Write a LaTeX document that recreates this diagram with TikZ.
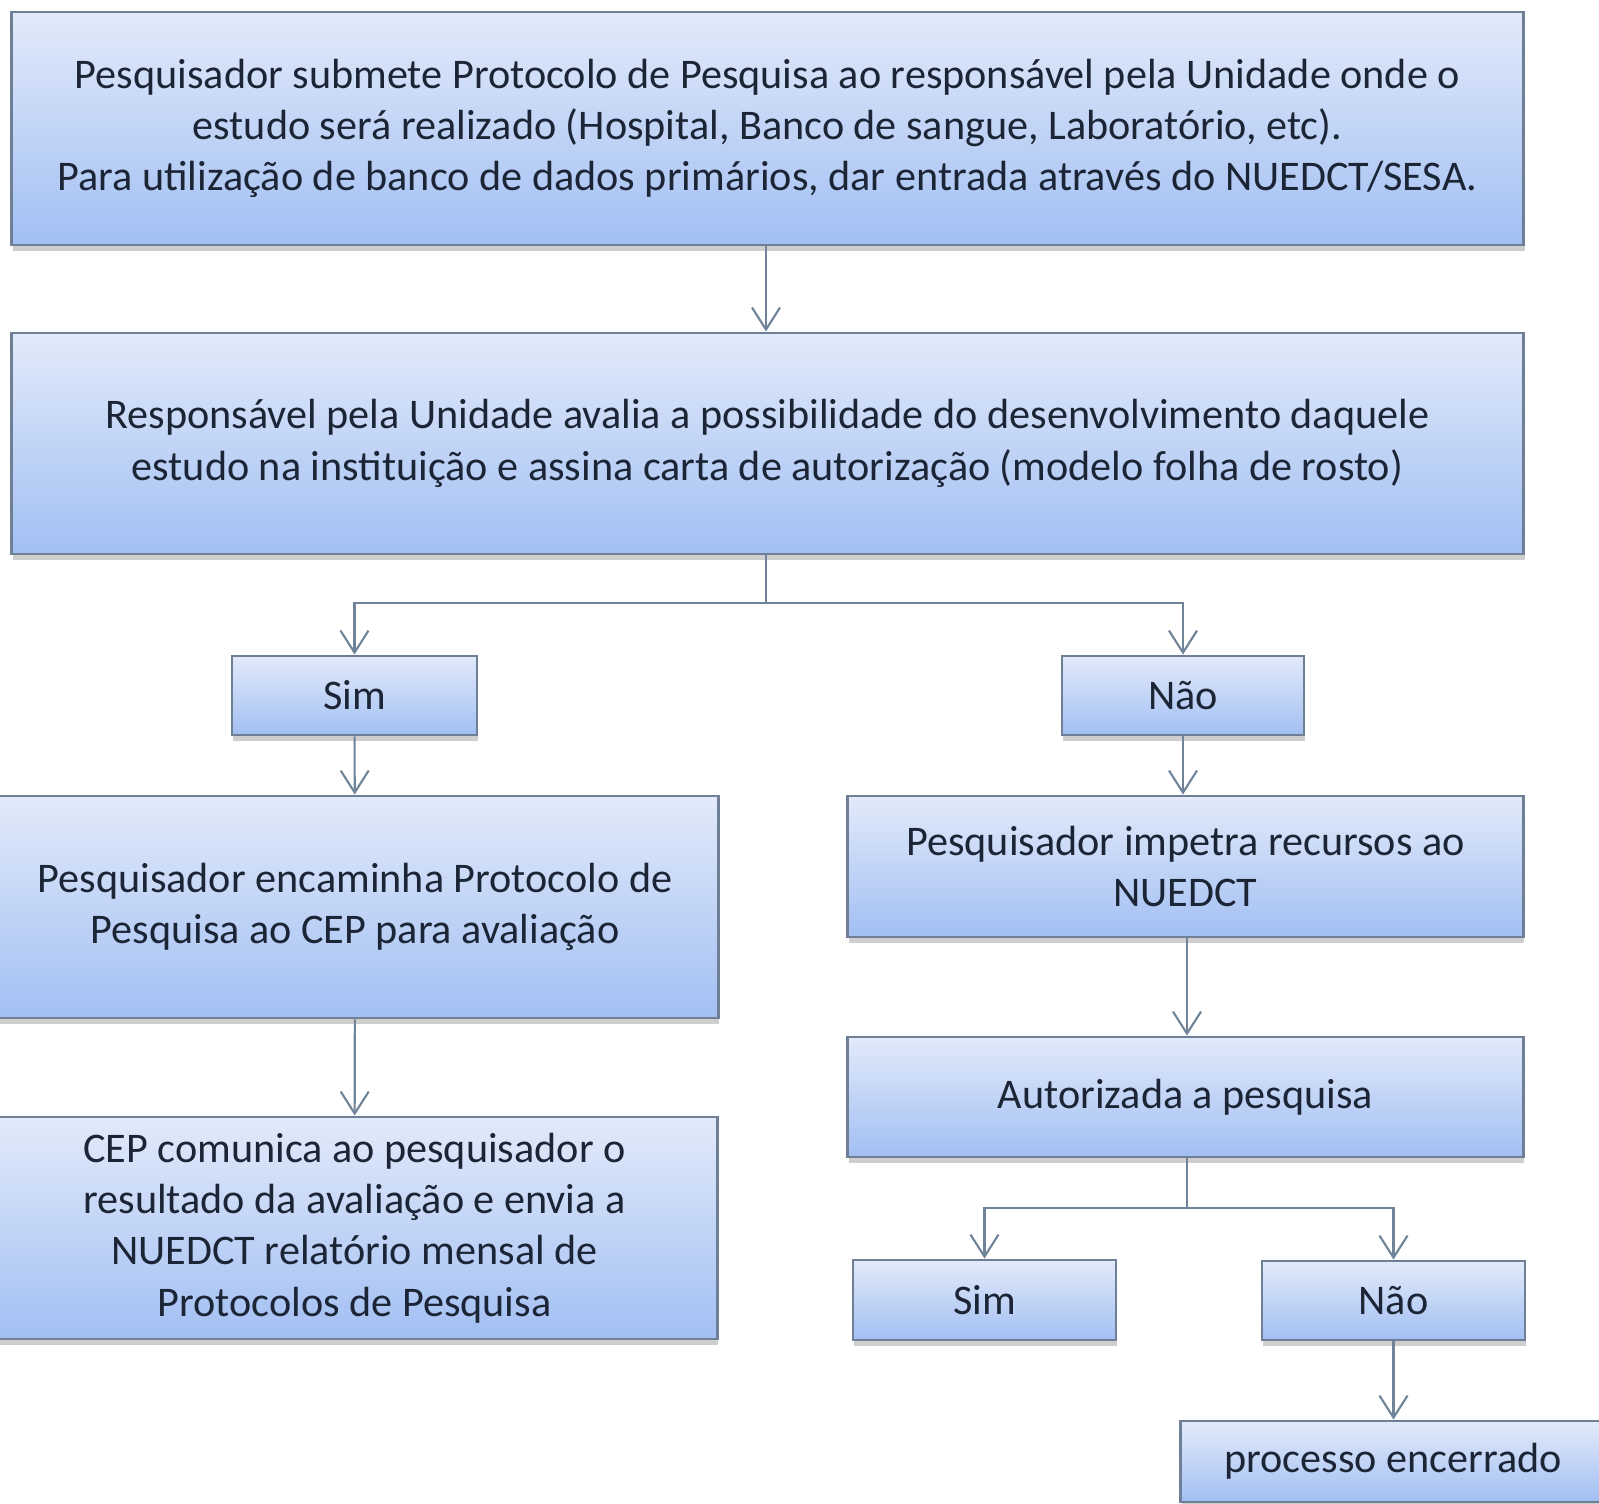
\documentclass[tikz,border=0pt]{standalone}
\usepackage{fontspec}
\setmainfont{Carlito}
\usetikzlibrary{arrows.meta,shadows}

\definecolor{borda}{HTML}{6E7F96}
\definecolor{topo}{HTML}{E2EAFA}
\definecolor{base}{HTML}{A2BFF3}
\definecolor{linha}{HTML}{6F8399}
\definecolor{texto}{HTML}{1C2535}

\tikzset{
    etapa/.style={draw=borda, line width=0.8pt, top color=topo, bottom color=base,
        drop shadow={shadow xshift=0.3pt, shadow yshift=-1.6pt, opacity=0.35, fill=black!55},
        align=center, text=texto, inner sep=0pt,
        font=\fontsize{12}{14.6}\selectfont},
    seta/.style={draw=linha, line width=0.6pt, -{Straight Barb[length=2.2mm, width=2.8mm, line width=0.6pt]}},
    liga/.style={draw=linha, line width=0.6pt}
}

\begin{document}
\begin{tikzpicture}[x=0.01cm, y=-0.01cm]

    \useasboundingbox[fill=white] (0,0) rectangle (1599,1504);

    \node[etapa, minimum width=15.11cm, minimum height=2.33cm] (protocolo) at (767.5,128.5)
        {Pesquisador submete Protocolo de Pesquisa ao responsável pela Unidade onde o\\
         estudo será realizado (Hospital, Banco de sangue, Laboratório, etc).\\
         Para utilização de banco de dados primários, dar entrada através do NUEDCT/SESA.};
    \node[etapa, minimum width=15.11cm, minimum height=2.21cm] (avaliacao) at (767.5,443.5)
        {Responsável pela Unidade avalia a possibilidade do desenvolvimento daquele\\
         estudo na instituição e assina carta de autorização (modelo folha de rosto)};

    \node[etapa, minimum width=2.45cm, minimum height=0.79cm] (sim) at (354.5,695.5) {Sim};
    \node[etapa, minimum width=2.42cm, minimum height=0.79cm] (nao) at (1183,695.5) {Não};

    % ramo da esquerda
    \node[etapa, minimum width=7.26cm, minimum height=2.22cm] (encaminha) at (355,907)
        {Pesquisador encaminha Protocolo de\\ Pesquisa ao CEP para avaliação};
    \node[etapa, minimum width=7.25cm, minimum height=2.22cm] (comunica) at (354.5,1228)
        {CEP comunica ao pesquisador o\\ resultado da avaliação e envia a\\
         NUEDCT relatório mensal de\\ Protocolos de Pesquisa};

    % ramo da direita
    \node[etapa, minimum width=6.75cm, minimum height=1.41cm] (recursos) at (1185.5,866.5)
        {Pesquisador impetra recursos ao\\ NUEDCT};
    \node[etapa, minimum width=6.75cm, minimum height=1.20cm] (autorizada) at (1185.5,1097)
        {Autorizada a pesquisa};
    \node[etapa, minimum width=2.63cm, minimum height=0.80cm] (simfinal) at (984.5,1300) {Sim};
    \node[etapa, minimum width=2.63cm, minimum height=0.79cm] (naofinal) at (1393.5,1300.5) {Não};
    \node[etapa, minimum width=4.24cm, minimum height=0.81cm] (encerrado) at (1393,1461.5)
        {processo encerrado};

    \coordinate (ramo) at (766,603);
    \coordinate (ramofinal) at (1187,1208);

    \draw[seta] (protocolo.south -| ramo) -- (avaliacao.north -| ramo);
    \draw[liga] (avaliacao.south -| ramo) -- (ramo);
    \draw[seta] (ramo) -| (sim.north);
    \draw[seta] (ramo) -| (nao.north);

    \draw[seta] (sim) -- (encaminha);
    \draw[seta] (encaminha) -- (comunica);

    \draw[seta] (nao.south) -- (nao.south |- recursos.north);
    \draw[seta] (recursos.south -| ramofinal) -- (autorizada.north -| ramofinal);
    \draw[liga] (autorizada.south -| ramofinal) -- (ramofinal);
    \draw[seta] (ramofinal) -| (simfinal.north);
    \draw[seta] (ramofinal) -| (naofinal.north);
    \draw[seta] (naofinal.south) -- (naofinal.south |- encerrado.north);

\end{tikzpicture}
\end{document}
